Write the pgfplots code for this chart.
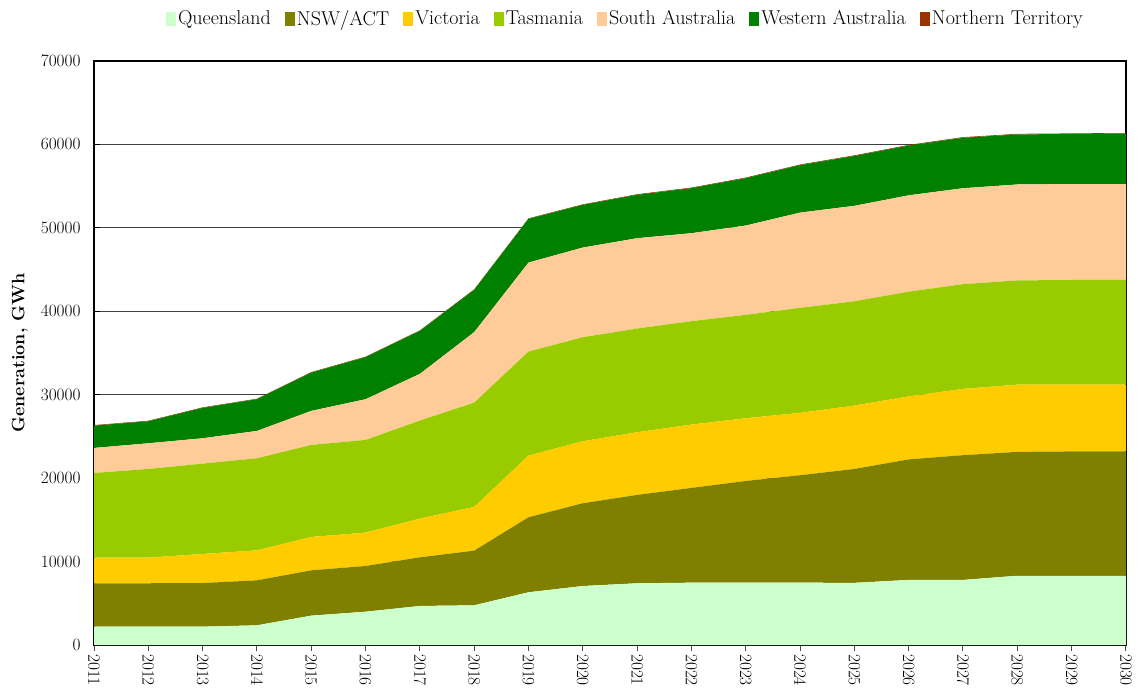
\documentclass[border=0pt]{standalone}
\usepackage{pgfplots}
\usepackage{pgfplotstable}
\pgfplotsset{compat=1.18}
\definecolor{qld}{HTML}{CCFFCC}
\definecolor{nsw}{HTML}{808000}
\definecolor{vic}{HTML}{FFCC00}
\definecolor{tas}{HTML}{99CC00}
\definecolor{sa}{HTML}{FFCC99}
\definecolor{wa}{HTML}{008000}
\definecolor{nt}{HTML}{993300}
\pgfplotstableread{
year Q N V T S W NT
2011 2200 5200 3070 10150 3000 2680 60
2012 2200 5200 3070 10630 3080 2640 60
2013 2200 5230 3480 10830 3040 3640 60
2014 2360 5390 3600 11030 3280 3800 60
2015 3520 5430 4000 11030 4080 4590 60
2016 3990 5480 4000 11110 4880 5040 60
2017 4680 5830 4640 11750 5600 5150 60
2018 4760 6550 5240 12500 8450 5070 60
2019 6320 8990 7390 12470 10670 5240 60
2020 7070 9920 7430 12470 10750 5120 60
2021 7400 10590 7510 12430 10830 5200 70
2022 7470 11360 7590 12390 10550 5400 70
2023 7470 12190 7520 12390 10710 5680 70
2024 7470 12880 7470 12590 11420 5690 70
2025 7450 13650 7600 12500 11440 5980 70
2026 7800 14450 7550 12550 11550 5970 70
2027 7800 14950 7950 12550 11500 6050 70
2028 8300 14850 8050 12500 11500 6000 70
2029 8300 14900 8000 12550 11500 6000 70
2030 8300 14900 8000 12550 11500 6050 70
}\datatable
\begin{document}
\begin{tikzpicture}
\begin{axis}[
  width=1032pt, height=584pt, scale only axis,
  xmin=2011, xmax=2030, ymin=0, ymax=70000,
  stack plots=y,
  clip=false,
  xtick={2011,...,2030},
  ytick={0,10000,...,70000},
  scaled y ticks=false,
  /pgf/number format/1000 sep={},
  tick pos=left,
  tick align=outside,
  major tick length=6pt,
  ytick style={xshift=6pt, line width=1pt, black},
  xtick style={line width=1pt, black!70},
  x tick label style={rotate=-90, anchor=west, font=\fontsize{18}{20}\selectfont, inner sep=3pt},
  y tick label style={font=\fontsize{18}{20}\selectfont, xshift=-4pt},
  ymajorgrids,
  grid style={black!75, line width=1pt},
  axis line style={line width=1.2pt},
  ylabel={\bfseries Generation, GWh},
  ylabel style={font=\fontsize{18}{20}\selectfont, yshift=6pt},
  legend columns=-1,
  legend style={at={(0.515,1)}, anchor=south, yshift=30pt, draw=none,
    font=\fontsize{20}{22}\selectfont,
    /tikz/every even column/.append style={column sep=12pt},
    nodes={inner sep=2pt}},
  legend image code/.code={\fill[#1] (0pt,-7pt) rectangle (10pt,7pt);},
]
\addplot[fill=qld, draw=none] table[x=year,y=Q]{\datatable} \closedcycle;
\addlegendentry{Queensland}
\addplot[fill=nsw, draw=none] table[x=year,y=N]{\datatable} \closedcycle;
\addlegendentry{NSW/ACT}
\addplot[fill=vic, draw=none] table[x=year,y=V]{\datatable} \closedcycle;
\addlegendentry{Victoria}
\addplot[fill=tas, draw=none] table[x=year,y=T]{\datatable} \closedcycle;
\addlegendentry{Tasmania}
\addplot[fill=sa, draw=none] table[x=year,y=S]{\datatable} \closedcycle;
\addlegendentry{South Australia}
\addplot[fill=wa, draw=none] table[x=year,y=W]{\datatable} \closedcycle;
\addlegendentry{Western Australia}
\addplot[fill=nt, draw=none] table[x=year,y=NT]{\datatable} \closedcycle;
\addlegendentry{Northern Territory}
\draw[line width=1.2pt, black] (rel axis cs:0,0) rectangle (rel axis cs:1,1);
\coordinate (sw) at (rel axis cs:0,0);
\coordinate (ne) at (rel axis cs:1,1);
\end{axis}
\pgfresetboundingbox
\path ([shift={(-94pt,-51pt)}]sw) rectangle ([shift={(20pt,61pt)}]ne);
\end{tikzpicture}
\end{document}
